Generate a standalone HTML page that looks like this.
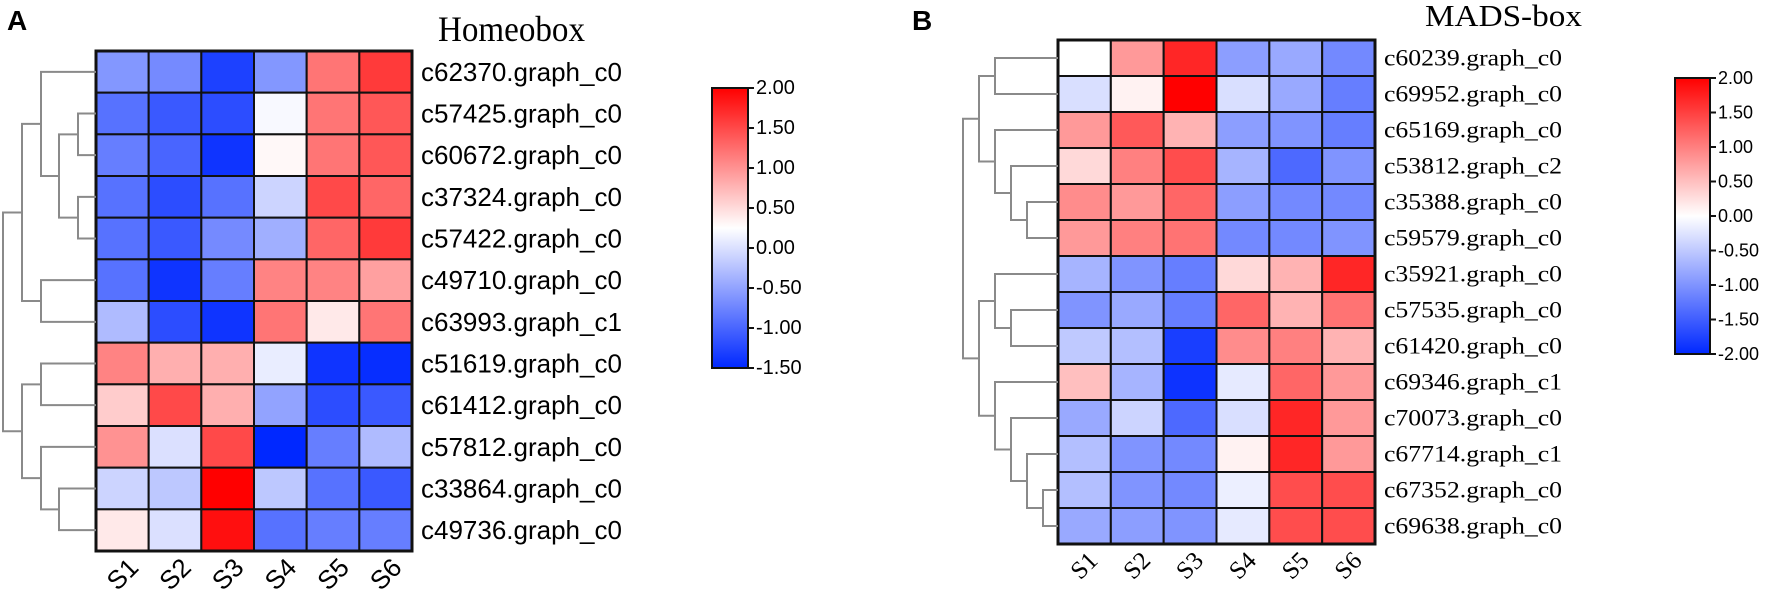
<!DOCTYPE html>
<html><head><meta charset="utf-8"><style>
html,body{margin:0;padding:0;background:#fff}
svg{display:block}
</style></head><body>
<svg id="fig" width="1772" height="592" viewBox="0 0 1772 592" xmlns="http://www.w3.org/2000/svg">
<defs>
<linearGradient id="gradA" x1="0" y1="1" x2="0" y2="0">
<stop offset="0" stop-color="rgb(0,40,255)"/><stop offset="0.5" stop-color="#fff"/><stop offset="1" stop-color="rgb(255,0,0)"/>
</linearGradient>
<linearGradient id="gradB" x1="0" y1="1" x2="0" y2="0">
<stop offset="0" stop-color="rgb(0,40,255)"/><stop offset="0.5" stop-color="#fff"/><stop offset="1" stop-color="rgb(255,0,0)"/>
</linearGradient>
</defs>
<text x="7" y="30" font-family="Liberation Sans, sans-serif" font-weight="bold" font-size="28">A</text>
<text x="912" y="30" font-family="Liberation Sans, sans-serif" font-weight="bold" font-size="28">B</text>
<text x="438" y="41" font-family="Liberation Serif, serif" font-size="36" textLength="147" lengthAdjust="spacingAndGlyphs">Homeobox</text>
<text x="1425" y="26" font-family="Liberation Serif, serif" font-size="31" textLength="157" lengthAdjust="spacingAndGlyphs">MADS-box</text>
<g id="gA"></g><g id="gB"></g>
</svg>
<script>
const samples = ["S1","S2","S3","S4","S5","S6"];
const genesA = ["c62370.graph_c0","c57425.graph_c0","c60672.graph_c0","c37324.graph_c0","c57422.graph_c0","c49710.graph_c0","c63993.graph_c1","c51619.graph_c0","c61412.graph_c0","c57812.graph_c0","c33864.graph_c0","c49736.graph_c0"];
const valuesA = [
[-0.6,-0.7,-1.3,-0.6,1.2,1.6],
[-0.9,-1.1,-1.2,0.2,1.2,1.4],
[-0.8,-1.0,-1.4,0.3,1.2,1.4],
[-0.9,-1.2,-0.9,-0.1,1.5,1.3],
[-0.9,-1.1,-0.7,-0.4,1.3,1.6],
[-0.9,-1.4,-0.8,1.1,1.1,0.9],
[-0.3,-1.2,-1.4,1.2,0.4,1.2],
[1.1,0.8,0.8,0.1,-1.4,-1.45],
[0.6,1.5,0.8,-0.5,-1.2,-1.1],
[1.0,0.0,1.5,-1.5,-0.8,-0.3],
[-0.1,-0.2,2.0,-0.2,-0.9,-1.1],
[0.4,0.0,1.9,-0.9,-0.8,-0.8]];
const ticksA = ["2.00","1.50","1.00","0.50","0.00","-0.50","-1.00","-1.50"];
const genesB = ["c60239.graph_c0","c69952.graph_c0","c65169.graph_c0","c53812.graph_c2","c35388.graph_c0","c59579.graph_c0","c35921.graph_c0","c57535.graph_c0","c61420.graph_c0","c69346.graph_c1","c70073.graph_c0","c67714.graph_c1","c67352.graph_c0","c69638.graph_c0"];
const valuesB = [
[0.0,0.8,1.7,-0.9,-0.8,-1.1],
[-0.3,0.1,2.0,-0.3,-0.8,-1.2],
[0.8,1.3,0.6,-0.9,-1.0,-1.2],
[0.3,1.0,1.4,-0.7,-1.4,-1.0],
[0.9,0.8,1.2,-0.9,-1.1,-1.1],
[0.8,1.0,1.1,-1.1,-1.1,-1.0],
[-0.7,-1.0,-1.2,0.3,0.6,1.7],
[-1.0,-0.8,-1.2,1.2,0.6,1.1],
[-0.5,-0.6,-1.8,0.9,1.0,0.6],
[0.5,-0.7,-1.9,-0.2,1.2,0.8],
[-0.8,-0.4,-1.4,-0.3,1.7,0.8],
[-0.6,-1.0,-1.1,0.1,1.7,0.8],
[-0.6,-1.0,-1.1,-0.15,1.4,1.4],
[-0.8,-0.9,-1.0,-0.2,1.4,1.4]];
const ticksB = ["2.00","1.50","1.00","0.50","0.00","-0.50","-1.00","-1.50","-2.00"];
// dendrogram merges: [a, b, x] where leaves are row indices, internal nodes are "n#"
const treeA = [[1,2,78],[3,4,78],["n0","n1",59],[0,"n2",41],[5,6,41],["n3","n4",22],[10,11,59],[9,"n6",41],[7,8,41],["n8","n7",22],["n5","n9",3]];
const treeB = [[0,1,995],[4,5,1027],[3,"n1",1011],[2,"n2",995],["n0","n3",979],[7,8,1011],[6,"n5",995],[12,13,1043],[11,"n7",1027],[10,"n8",1011],[9,"n9",995],["n6","n10",979],["n4","n11",963]];

const NS="http://www.w3.org/2000/svg";
function mk(tag,attrs,parent){const e=document.createElementNS(NS,tag);for(const k in attrs)e.setAttribute(k,attrs[k]);parent.appendChild(e);return e;}
function color(v,min,max){
  const mid=(min+max)/2;
  if(v>=mid){const t=Math.min(1,(v-mid)/(max-mid));return `rgb(255,${Math.round(255*(1-t))},${Math.round(255*(1-t))})`;}
  const t=Math.min(1,(mid-v)/(mid-min));return `rgb(${Math.round(255*(1-t))},${Math.round(255-215*t)},255)`;
}
function draw(cfg){
  const g=document.getElementById(cfg.id);
  const nR=cfg.genes.length,nC=samples.length;
  const cw=(cfg.x1-cfg.x0)/nC,rh=(cfg.y1-cfg.y0)/nR;
  const xS=i=>cfg.x0+i*cw, yS=j=>cfg.y0+j*rh;
  cfg.values.forEach((row,j)=>row.forEach((v,i)=>{
    const r=mk('rect',{x:xS(i),y:yS(j),width:cw,height:rh,fill:color(v,cfg.min,cfg.max),stroke:'#111','stroke-width':2},g);
    
    
  }));
  const border=mk('rect',{x:cfg.x0,y:cfg.y0,width:cfg.x1-cfg.x0,height:cfg.y1-cfg.y0,fill:'none',stroke:'#111','stroke-width':3},g);
  
  
  cfg.genes.forEach((n,j)=>{
    const t=mk('text',{x:cfg.lx,y:yS(j)+rh/2,'dominant-baseline':'central','font-family':cfg.font,'font-size':cfg.fs},g);
    if(cfg.tl){t.setAttribute('textLength',cfg.tl);t.setAttribute('lengthAdjust','spacingAndGlyphs');}
    t.textContent=n;
    
    
  });
  samples.forEach((s,i)=>{
    const cx=xS(i)+cw/2,cy=cfg.sy;
    const t=mk('text',{x:cx,y:cy,'text-anchor':'middle','dominant-baseline':'central','font-family':cfg.font,'font-size':cfg.sfs,transform:`rotate(-45 ${cx} ${cy})`},g);
    t.textContent=s;
    
    
  });
  // dendrogram
  const nodes={};
  const pos=k=>typeof k==='number'?{x:cfg.x0,y:yS(k)+rh/2}:nodes[k];
  cfg.tree.forEach((m,k)=>{
    const a=pos(m[0]),b=pos(m[1]),x=m[2];
    const p=mk('path',{d:`M${a.x} ${a.y}H${x}V${b.y}H${b.x}`,fill:'none',stroke:'#8a8a8a','stroke-width':2},g);
    
    
    nodes['n'+k]={x:x,y:(a.y+b.y)/2};
  });
  // legend
  const lr=mk('rect',{x:cfg.lgx,y:cfg.lgy0,width:cfg.lgw,height:cfg.lgy1-cfg.lgy0,fill:`url(#${cfg.grad})`,stroke:'#111','stroke-width':2},g);
  
  
  const nt=cfg.ticks.length;
  cfg.ticks.forEach((tk,k)=>{
    const y=cfg.lgy0+k*(cfg.lgy1-cfg.lgy0)/(nt-1);
    mk('line',{x1:cfg.lgx+cfg.lgw,x2:cfg.lgx+cfg.lgw+6,y1:y,y2:y,stroke:'#111','stroke-width':2},g);
    const t=mk('text',{x:cfg.lgx+cfg.lgw+8,y:y,'dominant-baseline':'central','font-family':'Liberation Sans, sans-serif','font-size':cfg.tfs},g);
    t.textContent=tk;
    
    
  });
}
draw({id:'gA',key:'homeobox',genes:genesA,values:valuesA,min:-1.5,max:2,x0:96,x1:412,y0:51,y1:551,lx:421,font:'Liberation Sans, sans-serif',fs:26,sfs:26,sy:574,tree:treeA,lgx:712,lgw:36,lgy0:88,lgy1:368,ticks:ticksA,tfs:20,grad:'gradA'});
draw({id:'gB',key:'mads-box',genes:genesB,values:valuesB,min:-2,max:2,x0:1058,x1:1375,y0:40,y1:544,lx:1384,font:'Liberation Serif, serif',fs:23,tl:178,sfs:25,sy:566,tree:treeB,lgx:1675,lgw:35,lgy0:78,lgy1:354,ticks:ticksB,tfs:18,grad:'gradB'});
</script>
</body></html>
